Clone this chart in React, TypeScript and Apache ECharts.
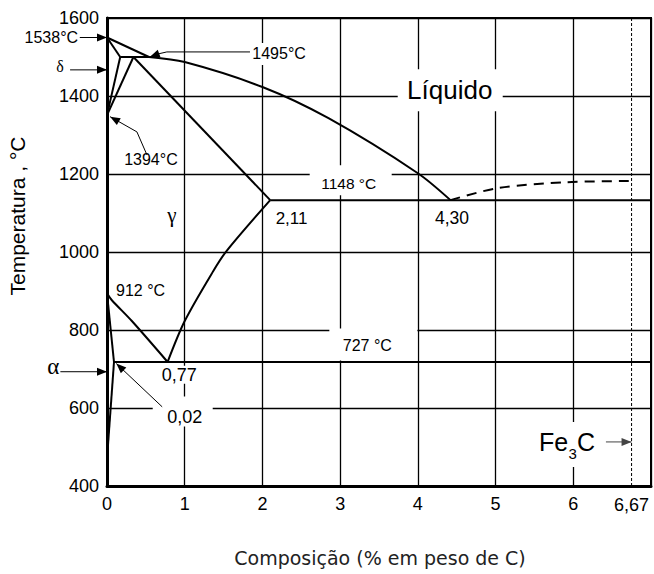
import React, { useEffect, useRef } from "react";
import * as echarts from "echarts";

type Pt = [number, number];

// ---- axis ticks ----
const xTickLabels: Record<number, string> = { 0: "0", 1: "1", 2: "2", 3: "3", 4: "4", 5: "5", 6: "6", 7: "" };

// ---- phase boundaries [wt% C, °C] ----
const deltaLiquidus: Pt[] = [[0, 1550], [0.54, 1500]];
const gammaLiquidus: Pt[] = [[0.54, 1500], [1.0, 1487], [2.0, 1423], [2.85, 1343], [4.0, 1202], [4.42, 1133]];
const deltaSolidus: Pt[] = [[0, 1550], [0.17, 1500]];
const peritectic: Pt[] = [[0.17, 1500], [0.54, 1500]];
const deltaGammaUpper: Pt[] = [[0.17, 1500], [0, 1351]];
const deltaGammaLower: Pt[] = [[0.34, 1500], [0, 1351]];
const gammaSolidus: Pt[] = [[0.34, 1500], [2.1, 1133]];
const eutectic: Pt[] = [[2.1, 1133], [7, 1133]];
const acm: Pt[] = [[0.78, 718], [1.0, 823], [1.37, 952], [1.54, 1003], [2.1, 1133]];
const a3: Pt[] = [[0, 894], [0.06, 877], [0.32, 823], [0.78, 718]];
const alphaSolvusUpper: Pt[] = [[0, 894], [0.09, 718]];
const alphaSolvusLower: Pt[] = [[0.09, 718], [0, 470]];
const eutectoid: Pt[] = [[0.09, 718], [7, 718]];
const cementiteLiquidus: Pt[] = [[4.42, 1133], [5.03, 1164], [5.92, 1179], [6.75, 1182]];
const cementiteLine: Pt[] = [[6.75, 400], [6.75, 1600]];

// ---- annotations: text, anchor (data coords), optional arrow path (data coords) ----
const notes: { text: string; at: Pt; arrow?: Pt[] }[] = [
  { text: "Líquido", at: [4.41, 1415] },
  { text: "1148 °C", at: [3.11, 1176] },
  { text: "727 °C", at: [3.35, 760] },
  { text: "0,02", at: [1.0, 578], arrow: [[0.71, 603], [0.12, 714]] },
  { text: "912 °C", at: [0.116, 901] },
  { text: "0,77", at: [0.93, 685] },
  { text: "2,11", at: [2.17, 1087] },
  { text: "4,30", at: [4.44, 1087] },
  { text: "1495°C", at: [1.87, 1508], arrow: [[1.84, 1513], [0.77, 1513], [0.66, 1508], [0.55, 1500]] },
  { text: "1538°C", at: [-0.372, 1550], arrow: [[-0.35, 1550], [0, 1550]] },
  { text: "δ", at: [-0.604, 1475], arrow: [[-0.475, 1467], [0, 1467]] },
  { text: "1394°C", at: [0.565, 1236], arrow: [[0.514, 1249], [0.385, 1308], [0.04, 1347]] },
  { text: "α", at: [-0.69, 706], arrow: [[-0.6, 693], [0, 693]] },
  { text: "γ", at: [0.835, 1095] },
  { text: "Fe|3|C", at: [5.56, 513], arrow: [[6.42, 513], [6.75, 513]] },
  { text: "6,67", at: [6.75, 351] },
];

const SANS = "Liberation Sans";
const SERIF = "Liberation Serif";

type NoteStyle = { size: number; font?: string; align?: string; box?: number[]; arrowColor?: string };
const noteStyles: NoteStyle[] = [
  { size: 26, box: [-52, -21, 105, 42] },
  { size: 15.5, box: [-39, -18, 82, 30] },
  { size: 16, box: [-38, -17, 88, 32] },
  { size: 18, box: [-32, -20, 60, 30] },
  { size: 16, align: "left" },
  { size: 18, box: [-20, -9, 40, 18] },
  { size: 17, align: "left" },
  { size: 17.5 },
  { size: 16, align: "left", box: [-3, -11, 57, 22] },
  { size: 16, align: "right" },
  { size: 16, font: SERIF },
  { size: 16 },
  { size: 23, font: SERIF },
  { size: 21, font: SERIF },
  { size: 25, align: "left", box: [-10, -20, 70, 45], arrowColor: "#444" },
  { size: 18 },
];

function lineSeries(data: Pt[], opts: any = {}) {
  return {
    type: "line",
    data,
    symbol: "none",
    showSymbol: false,
    silent: true,
    animation: false,
    smooth: opts.smooth ?? false,
    lineStyle: { color: "#000", width: opts.width ?? 2, type: opts.type ?? "solid" },
    z: 3,
  };
}

export default function App() {
  const ref = useRef<HTMLDivElement>(null);
  useEffect(() => {
    if (!ref.current) return;
    const chart = echarts.init(ref.current, undefined, { renderer: "svg" });
    const renderNote = (params: any, api: any) => {
      const n = notes[params.dataIndex];
      const st = noteStyles[params.dataIndex];
      const p = api.coord(n.at);
      const children: any[] = [];
      if (st.box) {
        children.push({
          type: "rect",
          shape: { x: p[0] + st.box[0], y: p[1] + st.box[1], width: st.box[2], height: st.box[3] },
          style: { fill: "#fff" },
        });
      }
      if (n.arrow) {
        const pts = n.arrow.map((c) => api.coord(c));
        const col = st.arrowColor ?? "#000";
        children.push({ type: "polyline", shape: { points: pts }, style: { stroke: col, lineWidth: 1, fill: null } });
        const [x2, y2] = pts[pts.length - 1];
        const [x1, y1] = pts[pts.length - 2];
        const ang = Math.atan2(y2 - y1, x2 - x1);
        const L = 10, W = 4;
        const bx = x2 - L * Math.cos(ang), by = y2 - L * Math.sin(ang);
        children.push({
          type: "polygon",
          shape: {
            points: [
              [x2, y2],
              [bx - W * Math.sin(ang), by + W * Math.cos(ang)],
              [bx + W * Math.sin(ang), by - W * Math.cos(ang)],
            ],
          },
          style: { fill: col },
        });
      }
      const font = st.font ?? SANS;
      if (n.text.includes("|")) {
        const [a, sub, b] = n.text.split("|");
        const base = { fill: "#000", fontFamily: font, verticalAlign: "middle", align: "left" };
        children.push({ type: "text", x: p[0], y: p[1], style: { ...base, text: a, fontSize: st.size } });
        children.push({ type: "text", x: p[0] + 29.5, y: p[1] + 12, style: { ...base, text: sub, fontSize: 15 } });
        children.push({ type: "text", x: p[0] + 38, y: p[1], style: { ...base, text: b, fontSize: st.size } });
      } else {
        children.push({
          type: "text",
          x: p[0],
          y: p[1],
          style: {
            text: n.text,
            fill: "#000",
            fontSize: st.size,
            fontFamily: font,
            align: st.align ?? "center",
            verticalAlign: "middle",
          },
        });
      }
      return { type: "group", children };
    };

    chart.setOption({
      animation: false,
      backgroundColor: "#fff",
      grid: { left: 107, top: 18, right: 2, bottom: 88, show: true, borderColor: "#000", borderWidth: 2, backgroundColor: "#fff" },
      xAxis: {
        type: "value",
        min: 0,
        max: 7,
        interval: 1,
        axisLine: { show: true, onZero: false, lineStyle: { color: "#000", width: 3 } },
        axisTick: { show: false },
        splitLine: { show: true, lineStyle: { color: "#000", width: 1.3 } },
        axisLabel: {
          margin: 9,
          fontSize: 18,
          fontFamily: SANS,
          color: "#000",
          formatter: (v: number) => xTickLabels[v] ?? "",
        },
      },
      yAxis: {
        type: "value",
        min: 400,
        max: 1600,
        interval: 200,
        axisLine: { show: true, onZero: false, lineStyle: { color: "#000", width: 3 } },
        axisTick: { show: false },
        splitLine: { show: true, lineStyle: { color: "#000", width: 1.3 } },
        axisLabel: { margin: 8, fontSize: 18, fontFamily: SANS, color: "#000", formatter: (v: number) => String(v) },
      },
      graphic: [
        {
          type: "text",
          x: 17.5,
          y: 216,
          rotation: Math.PI / 2,
          style: {
            text: "Temperatura , °C",
            fontSize: 21,
            fontFamily: SANS,
            fill: "#000",
            align: "center",
            verticalAlign: "middle",
          },
        },
        {
          type: "text",
          x: 380,
          y: 558,
          style: {
            text: "Composição (% em peso de C)",
            fontSize: 19,
            fontFamily: "DejaVu Sans",
            fill: "#222",
            align: "center",
            verticalAlign: "middle",
          },
        },
      ],
      series: [
        lineSeries(cementiteLine, { width: 1, type: [3, 2] }),
        lineSeries(deltaLiquidus),
        lineSeries(gammaLiquidus, { smooth: 0.3 }),
        lineSeries(deltaSolidus),
        lineSeries(peritectic),
        lineSeries(deltaGammaUpper),
        lineSeries(deltaGammaLower),
        lineSeries(gammaSolidus),
        lineSeries(eutectic),
        lineSeries(acm, { smooth: 0.3 }),
        lineSeries(a3, { smooth: 0.3 }),
        lineSeries(alphaSolvusUpper),
        lineSeries(alphaSolvusLower),
        lineSeries(eutectoid),
        lineSeries(cementiteLiquidus, { smooth: 0.3, type: [10, 7] }),
        {
          type: "custom",
          coordinateSystem: "cartesian2d",
          clip: false,
          silent: true,
          z: 10,
          data: notes.map((n) => n.at),
          encode: { x: 0, y: 1 },
          renderItem: renderNote,
        },
      ],
    });
    return () => chart.dispose();
  }, []);
  return <div ref={ref} style={{ position: "fixed", left: 0, top: 0, width: 654, height: 574 }} />;
}
